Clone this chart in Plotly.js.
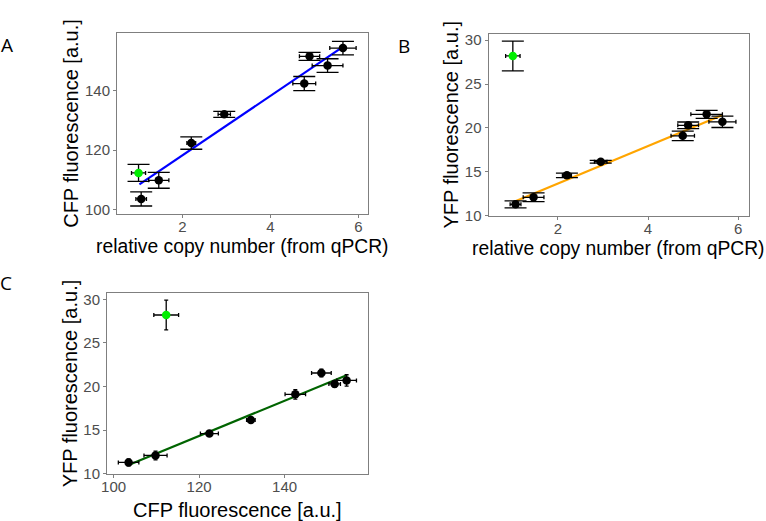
<!DOCTYPE html>
<html>
<head>
<meta charset="utf-8">
<script src="https://cdn.plot.ly/plotly-3.0.1.min.js"></script>
<style>
  html, body { margin: 0; padding: 0; background: #ffffff; }
  #chart { width: 766px; height: 521px; }
</style>
</head>
<body>
<div id="chart"></div>
<script>
// ---- data ----
var copyNumber    = [1.00, 1.06, 1.46, 2.20, 2.95, 4.77, 4.89, 5.30, 5.65];
var copyNumberErr = [0.16, 0.12, 0.23, 0.10, 0.14, 0.26, 0.23, 0.35, 0.30];
var cfp           = [112.3, 103.5, 109.8, 122.4, 132.1, 142.5, 151.7, 148.6, 154.5];
var cfpErr        = [2.9, 2.4, 2.7, 2.1, 1.0, 2.4, 1.35, 2.3, 2.3];
var yfp           = [28.2, 11.3, 12.1, 14.6, 16.15, 19.1, 20.3, 21.55, 20.7];
var yfpErr        = [1.7, 0.4, 0.5, 0.25, 0.15, 0.55, 0.38, 0.45, 0.65];
var isOutlier     = [true, false, false, false, false, false, false, false, false];

// fitted lines (endpoints)
var fitA_x = [1.02, 5.64], fitA_y = [108.4, 154.8];
var fitB_x = [1.03, 5.64], fitB_y = [11.6, 21.45];
var fitC_x = [103.5, 154.5], fitC_y = [11.0, 21.3];

// tick values
var copyTicks = [2, 4, 6];
var cfpTicks  = [100, 120, 140];
var yfpTicks  = [10, 15, 20, 25, 30];

// axis titles
var titleCopy = 'relative copy number (from qPCR)';
var titleCFP  = 'CFP fluorescence [a.u.]';
var titleYFP  = 'YFP fluorescence [a.u.]';

// ---- styling ----
var pointColors = isOutlier.map(function (o) { return o ? '#00ee00' : '#000000'; });
var FONT = 'Liberation Sans, Arial, Helvetica, sans-serif';

function scatterTrace(x, y, ex, ey, xa, ya, capY, capX) {
  return {
    type: 'scatter', mode: 'markers', x: x, y: y, xaxis: xa, yaxis: ya,
    marker: { color: pointColors, size: 8.5 },
    error_y: { type: 'data', array: ey, visible: true, color: '#000000', thickness: 1.3, width: capY },
    error_x: { type: 'data', array: ex, visible: true, color: '#000000', thickness: 1.3, width: capX },
    showlegend: false, hoverinfo: 'x+y'
  };
}
function lineTrace(x, y, xa, ya, color) {
  return {
    type: 'scatter', mode: 'lines', x: x, y: y, xaxis: xa, yaxis: ya,
    line: { color: color, width: 2.2 }, showlegend: false, hoverinfo: 'skip'
  };
}

var traces = [
  lineTrace(fitA_x, fitA_y, 'x', 'y', '#0000ff'),
  scatterTrace(copyNumber, cfp, copyNumberErr, cfpErr, 'x', 'y', 11, 2),
  lineTrace(fitB_x, fitB_y, 'x2', 'y2', '#ffa500'),
  scatterTrace(copyNumber, yfp, copyNumberErr, yfpErr, 'x2', 'y2', 11, 2),
  lineTrace(fitC_x, fitC_y, 'x3', 'y3', '#006400'),
  scatterTrace(cfp, yfp, cfpErr, yfpErr, 'x3', 'y3', 2, 2)
];

function axis(domain, range, ticks, title, anchor, titleSize, standoff, labelStandoff) {
  var a = {
    domain: domain, range: range, anchor: anchor,
    tickmode: 'array', tickvals: ticks, ticktext: ticks.map(String),
    showline: true, mirror: true, linecolor: '#7f7f7f', linewidth: 1,
    ticks: 'outside', ticklen: 3, tickwidth: 1, tickcolor: '#7f7f7f',
    tickfont: { family: FONT, size: 15, color: '#4d4d4d' },
    ticklabelstandoff: labelStandoff,
    showgrid: false, zeroline: false, automargin: false
  };
  if (title) {
    a.title = { text: title, font: { family: FONT, size: titleSize, color: '#000000' }, standoff: standoff };
  }
  return a;
}

var W = 766, H = 521;
function dx(a, b) { return [a / W, b / W]; }
function dy(top, bottom) { return [1 - bottom / H, 1 - top / H]; }

function label(text, cx, cy, size, family) {
  return { text: text, x: cx / W, y: 1 - cy / H, xref: 'paper', yref: 'paper', showarrow: false,
           xanchor: 'center', yanchor: 'middle',
           font: { family: family, size: size, color: '#000000' } };
}

var layout = {
  width: W, height: H,
  margin: { l: 0, r: 0, t: 0, b: 0 },
  paper_bgcolor: '#ffffff', plot_bgcolor: '#ffffff',
  font: { family: FONT },
  xaxis:  axis(dx(117, 368),   [0.51, 6.22],   copyTicks, null, 'y', 19.3, 0, -4),
  yaxis:  axis(dy(33, 214),    [98.4, 159.6],  cfpTicks,  titleCFP, 'x', 20, 0, 0),
  xaxis2: axis(dx(488.5, 749), [0.46, 6.24],   copyTicks, null, 'y2', 19.3, 0, -4),
  yaxis2: axis(dy(33.5, 216),  [9.97, 30.76],  yfpTicks,  titleYFP, 'x2', 20, 0, 0),
  xaxis3: axis(dx(107, 368),   [98.45, 159.5], cfpTicks,  null, 'y3', 20, 0, -4),
  yaxis3: axis(dy(293, 474),   [9.97, 30.72],  yfpTicks,  titleYFP, 'x3', 20, 0, 0),
  annotations: [
    // x-axis titles
    label(titleCopy, 242.5, 246, 19.3, FONT),
    label(titleCopy, 618.5, 248, 19.3, FONT),
    label(titleCFP, 237.5, 510, 20, FONT),
    // panel letters
    label('A', 7, 45, 19, 'Open Sans, sans-serif'),
    label('B', 404, 46, 19, 'Open Sans, sans-serif'),
    label('C', 6, 283, 19, 'Open Sans, sans-serif')
  ]
};

Plotly.newPlot('chart', traces, layout, { displayModeBar: false, staticPlot: true });
</script>
</body>
</html>
